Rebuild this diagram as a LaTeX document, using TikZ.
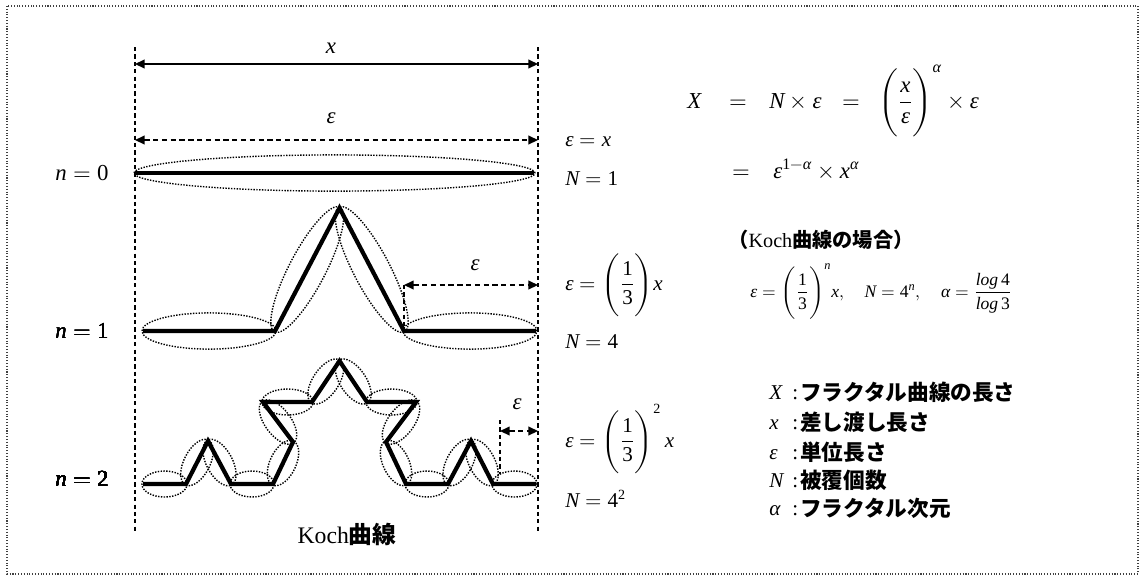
\documentclass[tikz,border=0pt]{standalone}
\usepackage{amsmath}
\usepackage{fontspec}
\usepackage{unicode-math}
\setmainfont{Liberation Serif}
\setmathfont{Latin Modern Math}
\setmathfont{Liberation Serif Italic}[range={it/{latin,Latin,greek,Greek}->up}]
\setmathfont{Liberation Serif}[range={up/num}]
\newfontfamily\jpfont{Noto Sans CJK JP}
\usetikzlibrary{arrows.meta}
\usetikzlibrary{calc, math}

\tikzset{
  frame/.style={densely dotted, line width=0.6pt, black!75},
  guide/.style={dash pattern=on 2.4pt off 1.8pt, line width=0.8pt},
  koch/.style={line width=2.4pt, line join=miter},
  cover/.style={dash pattern=on 0.8pt off 0.8pt, line width=0.8pt},
  dimline/.style={line width=0.8pt, {Triangle[length=5.5pt,width=5pt]}-{Triangle[length=5.5pt,width=5pt]}},
  dimdash/.style={dimline, dash pattern=on 3pt off 2pt},
  lab/.style={font=\fontsize{13}{15}\selectfont, inner sep=0pt},
  rlab/.style={font=\fontsize{12}{14}\selectfont, inner sep=0pt, anchor=base west},
  flab/.style={font=\fontsize{13}{15}\selectfont, inner sep=0pt, anchor=base west},
  jp/.style={font=\fontsize{12.3}{15}\selectfont\jpfont\bfseries, inner sep=0pt, anchor=base west},
}

% dotted ellipse laid along the segment #1--#2, half width #3 (pt)
\newcommand\coverell[3]{%
\draw[cover] let \p1=(#1), \p2=(#2), \n1={atan2(\y2-\y1,\x2-\x1)}, \n2={veclen(\x2-\x1,\y2-\y1)/2+0.6} in
($(#1)!0.5!(#2)$) ellipse[x radius=\n2, y radius=#3 pt, rotate=\n1];}

\begin{document}
\begin{tikzpicture}[x=0.02cm, y=-0.02cm]
\tikzmath{
\ra=10.3;
\rb=7.4;
}
\useasboundingbox (0,0) rectangle (1141,576);
\draw[frame] (7,6) rectangle (1138,574);

% guide lines
\coordinate (glT) at (135,47);
\coordinate (glB) at (135,534);
\coordinate (grT) at (538,47);
\coordinate (grB) at (538,534);
\draw[guide] (glT) -- (glB);
\draw[guide] (grT) -- (grB);

\coordinate (xL) at (135,64);
\coordinate (xR) at (538,64);
\draw[dimline] (xL) -- (xR);
\node[lab] (xlab) at (331,48) {$x$};
\coordinate (eL) at (135,140);
\coordinate (eR) at (538,140);
\draw[dimdash] (eL) -- (eR);
\node[lab] (elab0) at (331,118) {$ε$};

% n=0
\coordinate (a0) at (135,173);
\coordinate (a1) at (534,173);
\draw[koch, line width=2.7pt] (a0) -- (a1);
\coverell{a0}{a1}{\ra}
\node[lab] (n0) at (82,173) {$n=0$};

% n=1
\foreach \i/\p in {0/{143,331},1/{275,331},2/{339.5,208},3/{404,331},4/{536,331}}
\coordinate (b\i) at (\p);
\draw[koch] (b0) -- (b1) -- (b2) -- (b3) -- (b4);
\foreach \i [count=\j from 1] in {0,...,3}
\coverell{b\i}{b\j}{\ra}
\node[lab] (n1) at (82,331) {$n=1$};
\coordinate (e1L) at (404,285);
\coordinate (e1R) at (538,285);
\draw[guide] (e1L) -- (b3);
\draw[dimdash] (e1L) -- (e1R);
\node[lab] (elab1) at (475,265) {$ε$};

% n=2
\foreach \i/\p in {0/{143,484},1/{186,484},2/{208,441},3/{231,484},4/{273,484},5/{293,442},6/{263,402},7/{312,402},8/{339.5,361},
9/{367,402},10/{416,402},11/{386,442},12/{406,484},13/{448,484},14/{471,441},15/{493,484},16/{536,484}}
\coordinate (c\i) at (\p);
\draw[koch] (c0) \foreach \i in {1,...,16}{ -- (c\i)};
\foreach \i [count=\j from 1] in {0,...,15}
\coverell{c\i}{c\j}{\rb}
\node[lab] (n2) at (82,479) {$n=2$};
\coordinate (e2T) at (500,420);
\coordinate (e2B) at (500,474);
\coordinate (e2L) at (500,431);
\coordinate (e2R) at (538,431);
\draw[guide] (e2T) -- (e2B);
\draw[dimdash] (e2L) -- (e2R);
\node[lab] (elab2) at (517,404) {$ε$};

\node[lab, font=\fontsize{13.5}{15}\selectfont] (title) at (347,534) {Koch{\jpfont\bfseries 曲線}};

% values for each n
\node[rlab] (r0a) at (565,146) {$ε = x$};
\node[rlab] (r0b) at (565,185) {$N = 1$};
\node[rlab] (r1a) at (565,290) {$ε = \Biggl(\dfrac{1}{3}\Biggr)x$};
\node[rlab] (r1b) at (565,348) {$N = 4$};
\node[rlab] (r2a) at (565,447) {$ε = \Biggl(\dfrac{1}{3}\Biggr)^{2}\,x$};
\node[rlab] (r2b) at (565,507) {$N = 4^{2}$};

% formula
\node[flab] (fX) at (687,108) {$X$};
\node[flab] (fEq1) at (729,108) {$=$};
\node[flab] (fNe) at (769,108) {$N\times ε$};
\node[flab] (fEq2) at (842,108) {$=$};
\node[flab] (fPow) at (878,108) {$\Biggl(\dfrac{x}{ε}\Biggr)^{α}\times ε$};
\node[flab] (fEq3) at (732,178) {$=$};
\node[flab] (fPow2) at (773,178) {$ε^{1-α}\times x^{α}$};

\node[anchor=west, inner sep=0pt, font=\fontsize{11.5}{13}\selectfont] (caseLab) at (728,240)
{{\jpfont\bfseries （}Koch{\jpfont\bfseries 曲線の場合）}};
\node[anchor=base west, inner sep=0pt, font=\fontsize{10}{12}\selectfont] (caseEq) at (750,297)
{$ε=\Biggl(\dfrac{1}{3}\Biggr)^{n}x,\quad N=4^{n},\quad α=\dfrac{log\,4}{log\,3}$};

% legend
\foreach \s/\t/\yy [count=\k] in {X/フラクタル曲線の長さ/399,x/差し渡し長さ/429,ε/単位長さ/459,N/被覆個数/487,α/フラクタル次元/515}{
\node[rlab] (sym\k) at (769,\yy) {$\s$};
\node[rlab] (col\k) at (792,\yy) {:};
\node[jp] (txt\k) at (800,\yy+1) {\t};
}
\end{tikzpicture}
\end{document}
